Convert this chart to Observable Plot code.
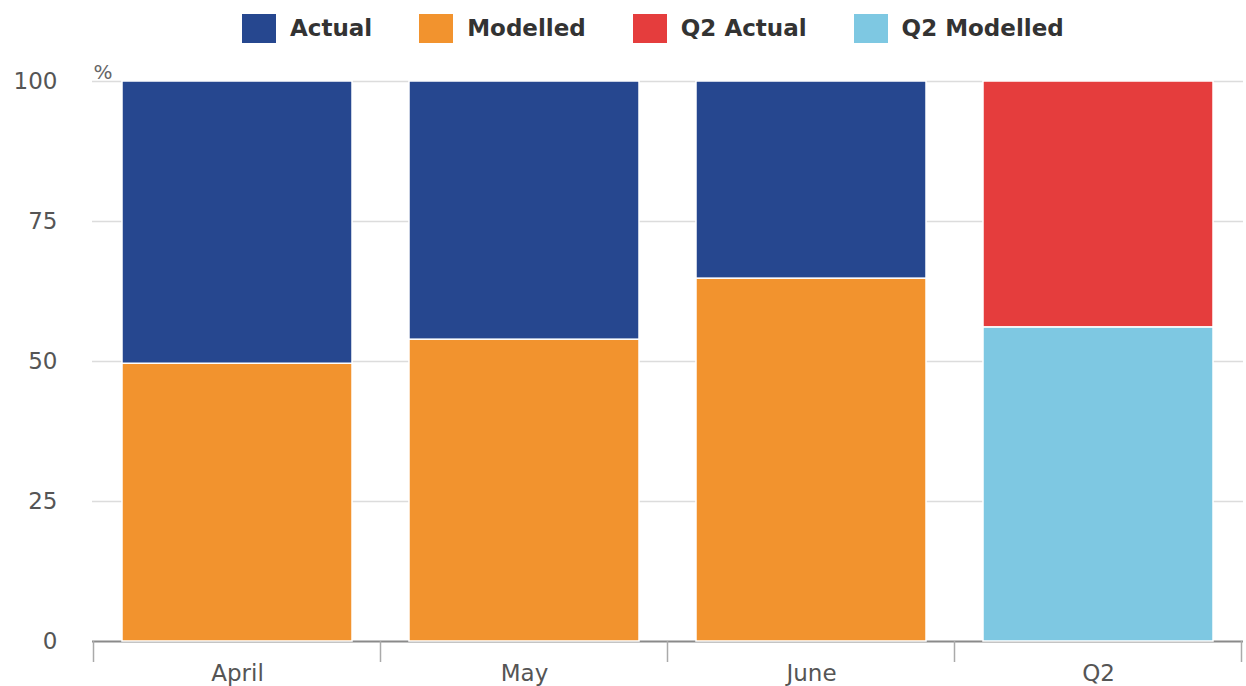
<!DOCTYPE html>
<html>
<head>
<meta charset="utf-8">
<script src="https://cdn.jsdelivr.net/npm/d3@7"></script>
<script src="https://cdn.jsdelivr.net/npm/@observablehq/plot@0.6"></script>
<style>
  html, body { margin: 0; padding: 0; background: #fff; overflow: hidden; }
  #legend {
    height: 56px; display: flex; align-items: center;
    padding-left: 242px;
    font-family: "DejaVu Sans", sans-serif; font-weight: bold; font-size: 23px; color: #333;
  }
  #legend .item { display: flex; align-items: center; margin-right: 47px; }
  #legend .sw { width: 34px; height: 29px; margin-right: 14px; }
</style>
</head>
<body>
<div id="legend"></div>
<div id="chart"></div>
<script>
// Periods on the x axis
const periods = ["April", "May", "June", "Q2"];
// Share of the total, in percent
const modelled = [49.6, 53.9, 64.8, 56.1];
const actual = [50.4, 46.1, 35.2, 43.9];
// Series names: monthly bars and the quarterly bar
const monthSeries = ["Modelled", "Actual"];
const quarterSeries = ["Q2 Modelled", "Q2 Actual"];
const legendOrder = ["Actual", "Modelled", "Q2 Actual", "Q2 Modelled"];
const colors = ["#26478f", "#f2932e", "#e53d3d", "#7ec8e2"];
const yTicks = [0, 25, 50, 75, 100];

// Long table: bottom segment (modelled) first, then actual on top
const rows = [];
periods.forEach((p, i) => {
  const names = p === "Q2" ? quarterSeries : monthSeries;
  rows.push({period: p, series: names[0], value: modelled[i]});
  rows.push({period: p, series: names[1], value: actual[i]});
});

// Legend
const legend = document.getElementById("legend");
legendOrder.forEach((name, i) => {
  const item = document.createElement("div");
  item.className = "item";
  const sw = document.createElement("div");
  sw.className = "sw";
  sw.style.background = colors[i];
  const label = document.createElement("span");
  label.textContent = name;
  item.append(sw, label);
  legend.append(item);
});

// Tick marks at the edges of each band, below the baseline
function bandEdgeTicks(index, scales, values, dimensions) {
  const x = scales.x;
  const step = typeof x.step === "function" ? x.step() : x.step;
  const bw = typeof x.bandwidth === "function" ? x.bandwidth() : x.bandwidth;
  const y0 = dimensions.height - dimensions.marginBottom;
  const g = d3.create("svg:g").attr("stroke", "#aaa").attr("stroke-width", 1.5);
  const edges = periods.map(p => x(p) + bw / 2 - step / 2);
  edges.push(x(periods[periods.length - 1]) + bw / 2 + step / 2);
  for (const e of edges) {
    g.append("line").attr("x1", e).attr("x2", e).attr("y1", y0).attr("y2", y0 + 21);
  }
  return g.node();
}

const chart = Plot.plot({
  width: 1246,
  height: 630,
  marginTop: 25,
  marginBottom: 45,
  marginLeft: 92,
  marginRight: 3,
  style: {fontFamily: "DejaVu Sans, sans-serif", fontSize: "23px", color: "#555", background: "#fff"},
  x: {domain: periods, paddingInner: 0.2, paddingOuter: 0.1, label: null},
  y: {domain: [0, 100], label: null},
  color: {domain: legendOrder, range: colors},
  marks: [
    Plot.gridY([25, 50, 75, 100], {stroke: "#dcdcdc", strokeOpacity: 1, strokeWidth: 1.5}),
    Plot.ruleY([0], {stroke: "#8a8a8a", strokeWidth: 2}),
    Plot.barY(rows, Plot.stackY({order: null}, {
      x: "period", y: "value", fill: "series", stroke: "white", strokeWidth: 1.5
    })),
    Plot.axisY(yTicks, {tickSize: 0, tickPadding: 35, fontSize: 23, fill: "#555"}),
    Plot.axisX({tickSize: 0, tickPadding: 23, fontSize: 23, fill: "#555"}),
    bandEdgeTicks,
    Plot.text(["%"], {frameAnchor: "top-left", lineAnchor: "bottom", dx: 1, dy: -3, fontSize: 20, fill: "#666"})
  ]
});
document.getElementById("chart").append(chart);
</script>
</body>
</html>
